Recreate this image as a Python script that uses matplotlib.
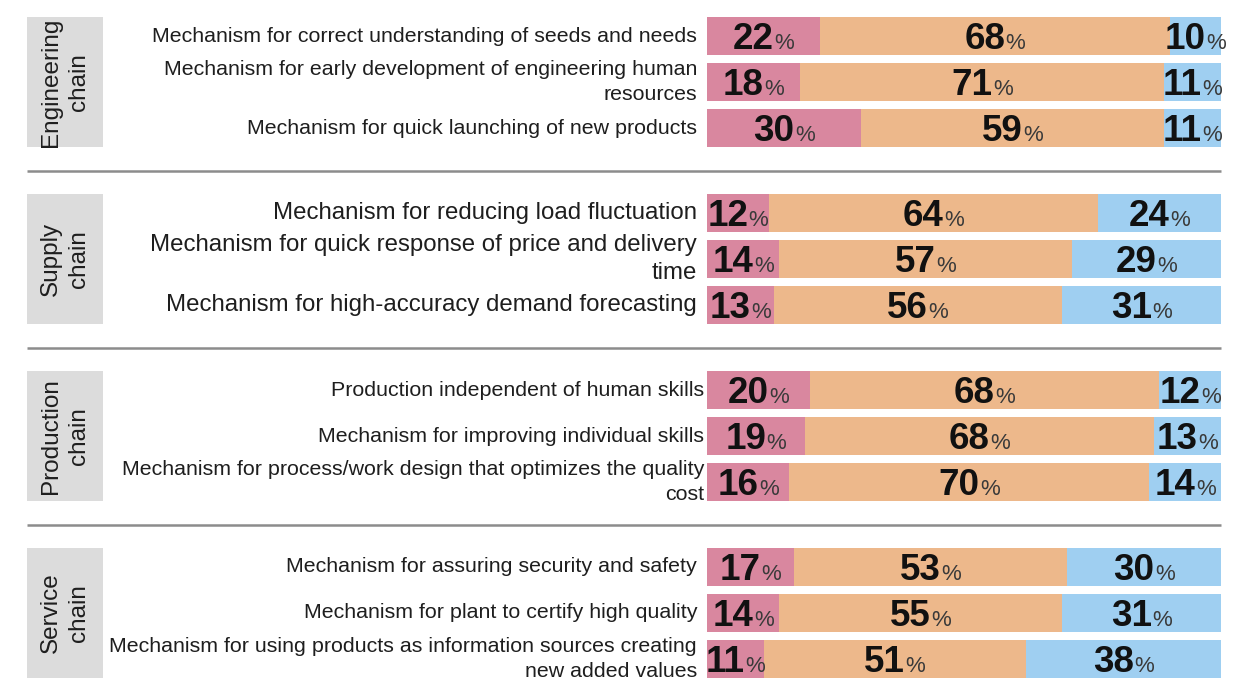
import matplotlib
matplotlib.use("Agg")
import matplotlib.pyplot as plt
from matplotlib.patches import Rectangle

plt.rcParams['font.family'] = ['Liberation Sans', 'DejaVu Sans']

# ---------------- data ----------------
groups = ["Engineering\nchain", "Supply\nchain", "Production\nchain", "Service\nchain"]
items = [
    ["Mechanism for correct understanding of seeds and needs",
     "Mechanism for early development of engineering human\nresources",
     "Mechanism for quick launching of new products"],
    ["Mechanism for reducing load fluctuation",
     "Mechanism for quick response of price and delivery\ntime",
     "Mechanism for high-accuracy demand forecasting"],
    ["Production independent of human skills",
     "Mechanism for improving individual skills",
     "Mechanism for process/work design that optimizes the quality\ncost"],
    ["Mechanism for assuring security and safety",
     "Mechanism for plant to certify high quality",
     "Mechanism for using products as information sources creating\nnew added values"],
]
pink_vals = [[22, 18, 30], [12, 14, 13], [20, 19, 16], [17, 14, 11]]
orange_vals = [[68, 71, 59], [64, 57, 56], [68, 68, 70], [53, 55, 51]]
blue_vals = [[10, 11, 11], [24, 29, 31], [12, 13, 14], [30, 31, 38]]

# ---------------- style / layout ----------------
PINK = "#D9879F"
ORANGE = "#EDB88B"
BLUE = "#9FCFF1"
BOX = "#DCDCDC"
SEP = "#8C8C8C"
TXT = "#1E1E1E"

W, H = 1245, 687
BAR_L, BAR_R = 707, 1221
Y0, GP, RP, BH = 36, 177, 46, 38
label_fs = [15.4, 17.3, 15.4, 15.4]
label_right = [697, 697, 704, 697]
NUM_FS = 26.5
PCT_FS = 16

fig = plt.figure(figsize=(W / 100, H / 100), dpi=100)
bg = fig.add_axes([0, 0, 1, 1])
bg.set_xlim(0, W)
bg.set_ylim(H, 0)
bg.axis('off')

ax = fig.add_axes([BAR_L / W, 0, (BAR_R - BAR_L) / W, 1])
ax.set_xlim(0, 100)
ax.set_ylim(H, 0)
ax.axis('off')
ax.patch.set_alpha(0)

renderer = fig.canvas.get_renderer()
px_per_unit = (BAR_R - BAR_L) / 100.0


def value_label(xc, y, num):
    t1 = ax.text(0, y, str(num), fontsize=NUM_FS, fontweight='bold', color='#111111',
                 ha='left', va='baseline')
    t2 = ax.text(0, y, '%', fontsize=PCT_FS, color='#3a3a3a', ha='left', va='baseline')
    w1 = t1.get_window_extent(renderer).width + 0.5
    w2 = t2.get_window_extent(renderer).width
    total = (w1 + w2) / px_per_unit
    x_start = xc - total / 2
    t1.set_x(x_start)
    t2.set_x(x_start + w1 / px_per_unit)


cap_px = NUM_FS * 100 / 72 * 0.716

for g in range(len(groups)):
    ys = [Y0 + g * GP + r * RP for r in range(3)]
    p = pink_vals[g]
    o = orange_vals[g]
    b = blue_vals[g]
    left_o = p
    left_b = [pi + oi for pi, oi in zip(p, o)]
    ax.barh(ys, p, height=BH, color=PINK, left=0)
    ax.barh(ys, o, height=BH, color=ORANGE, left=left_o)
    ax.barh(ys, b, height=BH, color=BLUE, left=left_b)

    for r in range(3):
        yb = ys[r] + cap_px / 2
        value_label(p[r] / 2, yb, p[r])
        value_label(left_o[r] + o[r] / 2, yb, o[r])
        value_label(left_b[r] + b[r] / 2, yb, b[r])
        bg.text(label_right[g], ys[r], items[g][r], ha='right', va='center',
                fontsize=label_fs[g], color=TXT, linespacing=1.4)

    # group box
    top = ys[0] - BH / 2
    height = ys[-1] - ys[0] + BH
    bg.add_patch(Rectangle((27, top), 76, height, facecolor=BOX, edgecolor='none'))
    bg.text(65, top + height / 2, groups[g], rotation=90, ha='center', va='center',
            fontsize=17.5, color=TXT, linespacing=1.35, multialignment='center')

    # separator
    if g < len(groups) - 1:
        ysep = (ys[-1] + Y0 + (g + 1) * GP) / 2
        bg.plot([27, BAR_R], [ysep, ysep], color=SEP, lw=1.8, solid_capstyle='butt')

fig.savefig("out.png", dpi=100)
